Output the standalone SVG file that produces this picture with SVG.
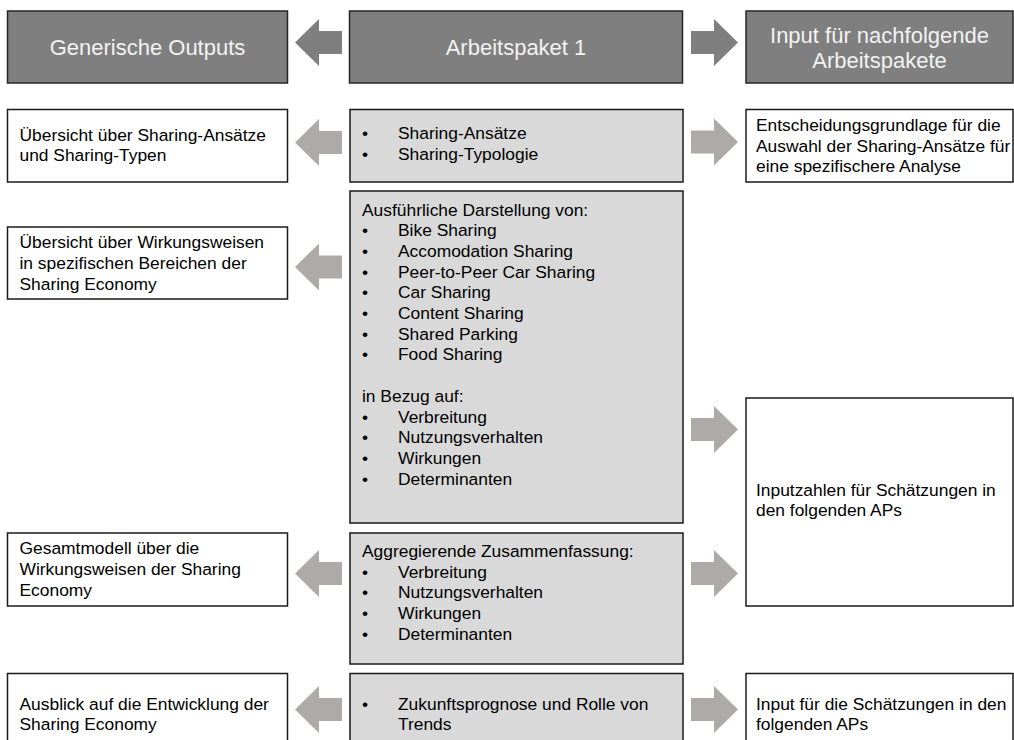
<svg xmlns="http://www.w3.org/2000/svg" width="1014" height="740" viewBox="0 0 1014 740">
  <defs>
    <style>
      .hdr { fill: #7f7f7f; stroke: #262626; stroke-width: 1.5; }
      .out { fill: #ffffff; stroke: #1a1a1a; stroke-width: 1.5; }
      .mid { fill: #d9d9d9; stroke: #1a1a1a; stroke-width: 1.5; }
      .hdrtxt { font-family: "Liberation Sans", Arial, sans-serif; font-size: 22px; fill: #f2f2f2; text-anchor: middle; }
      .txt { font-family: "Liberation Sans", Arial, sans-serif; font-size: 17.4px; fill: #000000; }
      .harrow { fill: #7f7f7f; }
      .arrow { fill: #aeaaaa; }
    </style>
    <!-- block arrows, tip at origin, centred on y=0 -->
    <polygon id="arrowL" points="0,0 24,-23.5 24,-11.5 47,-11.5 47,11.5 24,11.5 24,23.5"/>
    <polygon id="arrowR" points="47,0 23,-23.5 23,-11.5 0,-11.5 0,11.5 23,11.5 23,23.5"/>
  </defs>

  <rect width="1014" height="740" fill="#ffffff"/>

  <!-- header row -->
  <g id="hdr-outputs">
    <rect class="hdr" x="7.5" y="11" width="280" height="72"/>
    <text class="hdrtxt" x="147.5" y="55">Generische Outputs</text>
  </g>
  <g id="hdr-ap1">
    <rect class="hdr" x="349.5" y="11" width="333" height="72"/>
    <text class="hdrtxt" x="516" y="55">Arbeitspaket 1</text>
  </g>
  <g id="hdr-input">
    <rect class="hdr" x="746" y="11" width="267" height="72"/>
    <text class="hdrtxt" x="879.5" y="43">Input für nachfolgende</text>
    <text class="hdrtxt" x="879.5" y="68">Arbeitspakete</text>
  </g>

  <!-- row 1 -->
  <g id="out-ansaetze">
    <rect class="out" x="7.5" y="109.5" width="280" height="72.5"/>
    <text class="txt" x="19.5" y="140.5">Übersicht über Sharing-Ansätze</text>
    <text class="txt" x="19.5" y="161.2">und Sharing-Typen</text>
  </g>
  <g id="ap-typologie">
    <rect class="mid" x="350" y="109.5" width="333" height="72.5"/>
    <text class="txt" x="362" y="139">•</text>
    <text class="txt" x="398" y="139">Sharing-Ansätze</text>
    <text class="txt" x="362" y="159.7">•</text>
    <text class="txt" x="398" y="159.7">Sharing-Typologie</text>
  </g>
  <g id="in-entscheidung">
    <rect class="out" x="746" y="109.5" width="267" height="72.5"/>
    <text class="txt" x="756" y="131">Entscheidungsgrundlage für die</text>
    <text class="txt" x="756" y="151.7">Auswahl der Sharing-Ansätze für</text>
    <text class="txt" x="756" y="172.4">eine spezifischere Analyse</text>
  </g>

  <!-- row 2 -->
  <g id="out-wirkungsweisen">
    <rect class="out" x="7.5" y="227" width="280" height="72"/>
    <text class="txt" x="19.5" y="248.3">Übersicht über Wirkungsweisen</text>
    <text class="txt" x="19.5" y="269">in spezifischen Bereichen der</text>
    <text class="txt" x="19.5" y="289.7">Sharing Economy</text>
  </g>
  <g id="ap-darstellung">
    <rect class="mid" x="350" y="191" width="333" height="332"/>
    <text class="txt" x="362" y="215.5">Ausführliche Darstellung von:</text>
    <g>
      <text class="txt" x="362" y="236.2">•</text><text class="txt" x="398" y="236.2">Bike Sharing</text>
      <text class="txt" x="362" y="256.9">•</text><text class="txt" x="398" y="256.9">Accomodation Sharing</text>
      <text class="txt" x="362" y="277.6">•</text><text class="txt" x="398" y="277.6">Peer-to-Peer Car Sharing</text>
      <text class="txt" x="362" y="298.3">•</text><text class="txt" x="398" y="298.3">Car Sharing</text>
      <text class="txt" x="362" y="319">•</text><text class="txt" x="398" y="319">Content Sharing</text>
      <text class="txt" x="362" y="339.7">•</text><text class="txt" x="398" y="339.7">Shared Parking</text>
      <text class="txt" x="362" y="360.4">•</text><text class="txt" x="398" y="360.4">Food Sharing</text>
    </g>
    <text class="txt" x="362" y="401.8">in Bezug auf:</text>
    <g>
      <text class="txt" x="362" y="422.5">•</text><text class="txt" x="398" y="422.5">Verbreitung</text>
      <text class="txt" x="362" y="443.2">•</text><text class="txt" x="398" y="443.2">Nutzungsverhalten</text>
      <text class="txt" x="362" y="463.9">•</text><text class="txt" x="398" y="463.9">Wirkungen</text>
      <text class="txt" x="362" y="484.6">•</text><text class="txt" x="398" y="484.6">Determinanten</text>
    </g>
  </g>
  <g id="in-inputzahlen">
    <rect class="out" x="746" y="398" width="267" height="208"/>
    <text class="txt" x="756" y="495.5">Inputzahlen für Schätzungen in</text>
    <text class="txt" x="756" y="516.2">den folgenden APs</text>
  </g>

  <!-- row 3 -->
  <g id="out-gesamtmodell">
    <rect class="out" x="7.5" y="533" width="280" height="73"/>
    <text class="txt" x="19.5" y="554.3">Gesamtmodell über die</text>
    <text class="txt" x="19.5" y="575">Wirkungsweisen der Sharing</text>
    <text class="txt" x="19.5" y="595.7">Economy</text>
  </g>
  <g id="ap-zusammenfassung">
    <rect class="mid" x="350" y="533" width="333" height="131"/>
    <text class="txt" x="362" y="557">Aggregierende Zusammenfassung:</text>
    <text class="txt" x="362" y="577.7">•</text><text class="txt" x="398" y="577.7">Verbreitung</text>
    <text class="txt" x="362" y="598.4">•</text><text class="txt" x="398" y="598.4">Nutzungsverhalten</text>
    <text class="txt" x="362" y="619.1">•</text><text class="txt" x="398" y="619.1">Wirkungen</text>
    <text class="txt" x="362" y="639.8">•</text><text class="txt" x="398" y="639.8">Determinanten</text>
  </g>

  <!-- row 4 -->
  <g id="out-ausblick">
    <rect class="out" x="7.5" y="673.5" width="280" height="90"/>
    <text class="txt" x="19.5" y="709.5">Ausblick auf die Entwicklung der</text>
    <text class="txt" x="19.5" y="730.2">Sharing Economy</text>
  </g>
  <g id="ap-zukunft">
    <rect class="mid" x="350" y="673.5" width="333" height="90"/>
    <text class="txt" x="362" y="709.5">•</text>
    <text class="txt" x="398" y="709.5">Zukunftsprognose und Rolle von</text>
    <text class="txt" x="398" y="730.2">Trends</text>
  </g>
  <g id="in-schaetzungen">
    <rect class="out" x="746" y="673.5" width="267" height="90"/>
    <text class="txt" x="756" y="709.5">Input für die Schätzungen in den</text>
    <text class="txt" x="756" y="730.2">folgenden APs</text>
  </g>

  <!-- block arrows between columns -->
  <g id="connectors">
    <use href="#arrowL" class="harrow" x="295" y="42.5"/>
    <use href="#arrowR" class="harrow" x="691" y="42.5"/>
    <use href="#arrowL" class="arrow" x="295" y="142.5"/>
    <use href="#arrowR" class="arrow" x="691" y="142"/>
    <use href="#arrowL" class="arrow" x="295" y="267"/>
    <use href="#arrowR" class="arrow" x="691" y="429.5"/>
    <use href="#arrowL" class="arrow" x="295" y="573.5"/>
    <use href="#arrowR" class="arrow" x="691" y="573.5"/>
    <use href="#arrowL" class="arrow" x="295" y="709.5"/>
    <use href="#arrowR" class="arrow" x="691" y="709.5"/>
  </g>
</svg>
